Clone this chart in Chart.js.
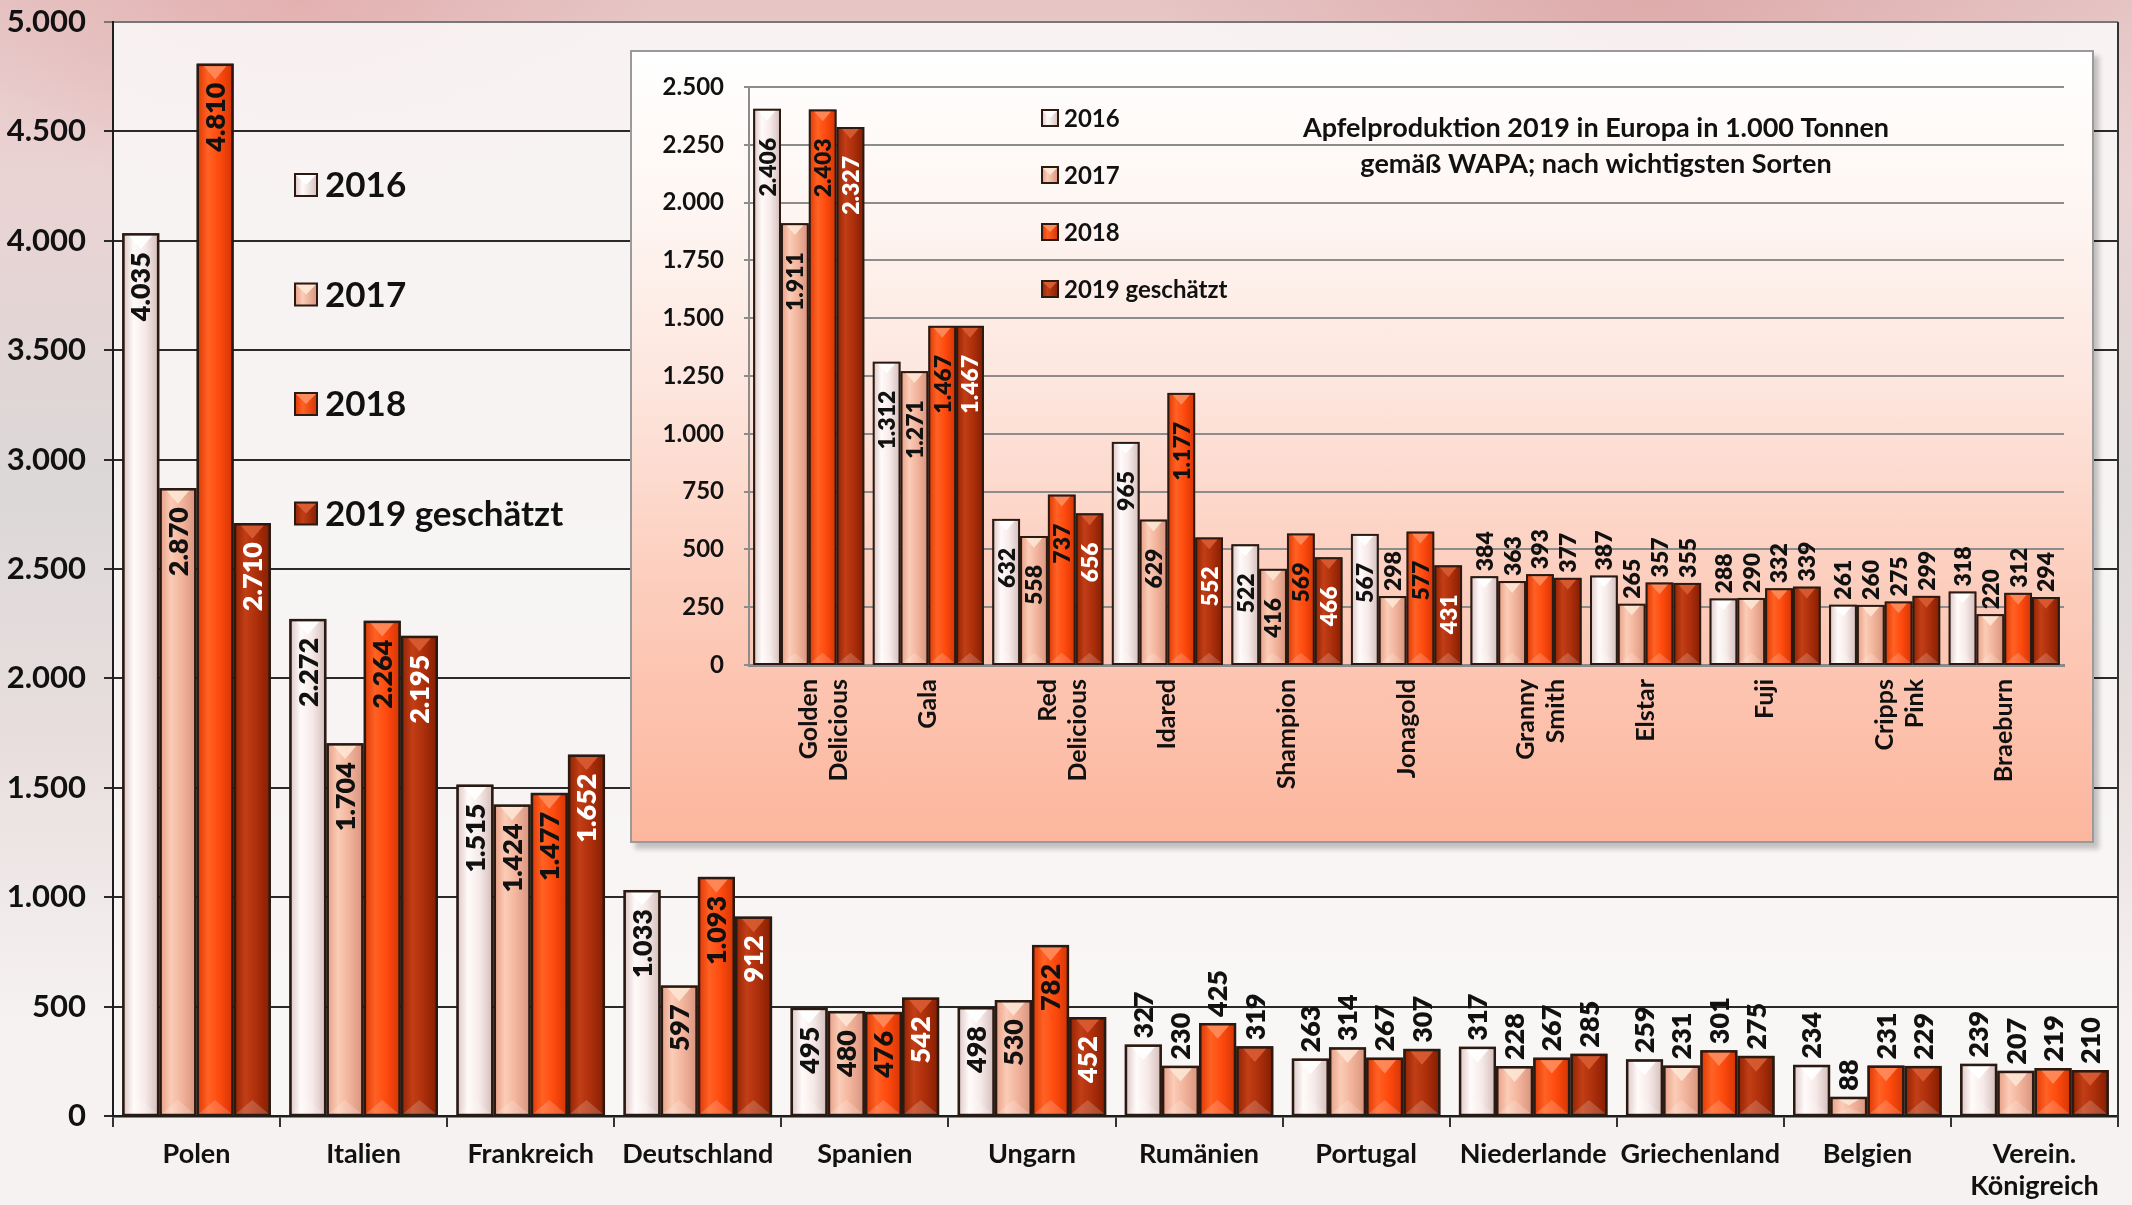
<!DOCTYPE html>
<html>
<head>
<meta charset="utf-8">
<script src="https://cdn.jsdelivr.net/npm/chart.js@4.4.1/dist/chart.umd.min.js"></script>
<style>
  html, body { margin:0; padding:0; width:2132px; height:1205px; overflow:hidden; }
  body {
    background:
      radial-gradient(ellipse 700px 420px at 1650px 0px, rgba(215,150,150,0.55), rgba(215,150,150,0) 70%),
      radial-gradient(ellipse 500px 300px at 300px 0px, rgba(225,160,160,0.55), rgba(225,160,160,0) 70%),
      linear-gradient(to bottom, #e6c4c4 0%, #ebd3d3 14%, #dcd8d8 40%, #e9dede 62%, #f6f2f2 85%, #f6f2f2 100%);
  }
  #main { position:absolute; left:0; top:0; }
  #insetBox {
    position:absolute; left:630px; top:50px; width:1460px; height:789px;
    border:2px solid #9a9a9a;
    background: linear-gradient(to bottom, #ffffff 0%, #fef7f4 18%, #fde6de 42%, #fccdbc 68%, #fdb69e 100%);
    box-shadow: 5px 6px 5px rgba(0,0,0,0.22);
  }
  #inset { position:absolute; left:0; top:0; }
</style>
</head>
<body>
<canvas id="main" width="2132" height="1205"></canvas>
<div id="insetBox"><canvas id="inset" width="1460" height="789"></canvas></div>
<script>
// ---------- DATA ----------
const countries = ['Polen', 'Italien', 'Frankreich', 'Deutschland', 'Spanien', 'Ungarn', 'Rumänien',
  'Portugal', 'Niederlande', 'Griechenland', 'Belgien', ['Verein.', 'Königreich']];
const seriesNames = ['2016', '2017', '2018', '2019 geschätzt'];
const country2016 = [4035, 2272, 1515, 1033, 495, 498, 327, 263, 317, 259, 234, 239];
const country2017 = [2870, 1704, 1424, 597, 480, 530, 230, 314, 228, 231, 88, 207];
const country2018 = [4810, 2264, 1477, 1093, 476, 782, 425, 267, 267, 301, 231, 219];
const country2019 = [2710, 2195, 1652, 912, 542, 452, 319, 307, 285, 275, 229, 210];
const mainTickValues = [0, 500, 1000, 1500, 2000, 2500, 3000, 3500, 4000, 4500, 5000];

const varieties = [['Golden', 'Delicious'], 'Gala', ['Red', 'Delicious'], 'Idared', 'Shampion', 'Jonagold',
  ['Granny', 'Smith'], 'Elstar', 'Fuji', ['Cripps', 'Pink'], 'Braeburn'];
const variety2016 = [2406, 1312, 632, 965, 522, 567, 384, 387, 288, 261, 318];
const variety2017 = [1911, 1271, 558, 629, 416, 298, 363, 265, 290, 260, 220];
const variety2018 = [2403, 1467, 737, 1177, 569, 577, 393, 357, 332, 275, 312];
const variety2019 = [2327, 1467, 656, 552, 466, 431, 377, 355, 339, 299, 294];
const insetTickValues = [0, 250, 500, 750, 1000, 1250, 1500, 1750, 2000, 2250, 2500];
const insetTitle = ['Apfelproduktion 2019 in Europa in 1.000 Tonnen', 'gemäß WAPA; nach wichtigsten Sorten'];

// ---------- STYLE ----------
const FONT = "Lato, 'Open Sans', sans-serif";
const baseColors = ['#f6ebe9', '#f2b29a', '#ff4c10', '#ae2f0a'];
const gradStops = [
  ['#ddc9c7', '#fffbfa', '#f6eae8', '#d6c0be'],
  ['#e8a088', '#fbccb6', '#f2b39b', '#d8957f'],
  ['#e03a06', '#ff6224', '#ff4a0e', '#d43606'],
  ['#942404', '#c23e16', '#ad2f0b', '#861f03']
];
const triColors = ['#ffffff', '#fde6d4', '#ff8c5c', '#d95c32'];
const labelInsideColors = ['#111', '#111', '#111', '#fff'];
const fmt = v => String(v).replace(/\B(?=(\d{3})+(?!\d))/g, '.');

function barDecor(opts) {
  return {
    id: 'barDecor',
    afterDatasetsDraw(chart) {
      const ctx = chart.ctx;
      chart.data.datasets.forEach((ds, di) => {
        const meta = chart.getDatasetMeta(di);
        meta.data.forEach((el, i) => {
          const w = el.width, left = el.x - w / 2, top = el.y, h = el.base - el.y;
          const bw = opts.bw;
          const il = left + bw / 2, ir = left + w - bw / 2, it = top + bw / 2, ib = el.base - 0.5;
          ctx.save();
          const g = ctx.createLinearGradient(il, 0, ir, 0);
          const st = gradStops[di];
          g.addColorStop(0, st[0]); g.addColorStop(0.3, st[1]); g.addColorStop(0.62, st[2]); g.addColorStop(1, st[3]);
          ctx.fillStyle = g;
          ctx.fillRect(il, it, ir - il, ib - it);
          const tw = (ir - il) * 0.72, th = Math.min((ir - il) * 0.42, (ib - it) * 0.45);
          ctx.beginPath();
          ctx.moveTo(el.x - tw / 2, it);
          ctx.lineTo(el.x + tw / 2, it);
          ctx.lineTo(el.x, it + th);
          ctx.closePath();
          ctx.fillStyle = triColors[di];
          ctx.globalAlpha = 0.9;
          ctx.fill();
          ctx.globalAlpha = 0.18;
          ctx.beginPath();
          ctx.moveTo(il, ib);
          ctx.lineTo(ir, ib);
          ctx.lineTo(el.x, ib - Math.min(th, (ib - it) * 0.4));
          ctx.closePath();
          ctx.fillStyle = '#ffffff';
          ctx.fill();
          ctx.globalAlpha = 1;
          ctx.lineWidth = bw;
          ctx.strokeStyle = opts.border;
          ctx.strokeRect(left + bw / 2, top + bw / 2, w - bw, h - bw / 2);
          ctx.restore();

          const v = ds.data[i];
          ctx.save();
          ctx.font = '800 ' + opts.labelSize + 'px ' + FONT;
          ctx.textBaseline = 'middle';
          if (v >= opts.insideMin) {
            ctx.translate(el.x + 1, top + opts.insideOffset);
            ctx.rotate(-Math.PI / 2);
            ctx.textAlign = 'right';
            ctx.fillStyle = labelInsideColors[di];
          } else {
            ctx.translate(el.x + 1, top - opts.outsideOffset);
            ctx.rotate(-Math.PI / 2);
            ctx.textAlign = 'left';
            ctx.fillStyle = '#111';
          }
          ctx.fillText(fmt(v), 0, 0);
          ctx.restore();
        });
      });
    }
  };
}

function legendDecor(opts) {
  return {
    id: 'legendDecor',
    afterDraw(chart) {
      const ctx = chart.ctx;
      ctx.save();
      chart.data.datasets.forEach((ds, di) => {
        const cy = opts.y0 + di * opts.dy, s = opts.box, x = opts.x;
        const g = ctx.createLinearGradient(x, 0, x + s, 0);
        const st = gradStops[di];
        g.addColorStop(0, st[0]); g.addColorStop(0.35, st[1]); g.addColorStop(1, st[3]);
        ctx.fillStyle = g;
        ctx.fillRect(x, cy - s / 2, s, s);
        ctx.beginPath();
        ctx.moveTo(x + 1, cy - s / 2 + 1); ctx.lineTo(x + s - 1, cy - s / 2 + 1); ctx.lineTo(x + s / 2, cy);
        ctx.closePath();
        ctx.fillStyle = triColors[di];
        ctx.fill();
        ctx.lineWidth = 2;
        ctx.strokeStyle = '#2a1a12';
        ctx.strokeRect(x, cy - s / 2, s, s);
        ctx.fillStyle = '#111';
        ctx.font = 'bold ' + opts.size + 'px ' + FONT;
        ctx.textAlign = 'left';
        ctx.textBaseline = 'middle';
        ctx.fillText(ds.label, x + s + opts.gap, cy + 1);
      });
      if (opts.title) {
        ctx.font = 'bold ' + opts.titleSize + 'px ' + FONT;
        ctx.textAlign = 'center';
        ctx.textBaseline = 'middle';
        opts.title.forEach((t, k) => ctx.fillText(t, opts.titleX, opts.titleY + k * opts.titleDy));
      }
      ctx.restore();
    }
  };
}

const plotBg = {
  id: 'plotBg',
  beforeDraw(chart, args, o) {
    if (!o.color) return;
    const a = chart.chartArea, ctx = chart.ctx;
    ctx.save();
    ctx.fillStyle = o.color;
    ctx.fillRect(a.left, a.top, a.right - a.left, a.bottom - a.top);
    ctx.restore();
  },
  afterDatasetsDraw(chart, args, o) {
    if (!o.rightLine) return;
    const a = chart.chartArea, ctx = chart.ctx;
    ctx.save();
    ctx.strokeStyle = o.rightLine; ctx.lineWidth = 2;
    ctx.beginPath(); ctx.moveTo(a.right, a.top); ctx.lineTo(a.right, a.bottom + 10); ctx.stroke();
    ctx.restore();
  }
};

function makeDatasets(arrs, bw, border) {
  return arrs.map((d, i) => ({
    label: seriesNames[i], data: d, backgroundColor: baseColors[i],
    borderColor: border, borderWidth: bw, borderSkipped: false
  }));
}

// ---------- MAIN CHART ----------
new Chart(document.getElementById('main'), {
  type: 'bar',
  data: { labels: countries, datasets: makeDatasets([country2016, country2017, country2018, country2019], 2.5, '#2a1a12') },
  options: {
    responsive: false, animation: false, devicePixelRatio: 1,
    layout: { padding: { top: 22, right: 14, left: 0, bottom: 0 } },
    datasets: { bar: { categoryPercentage: 0.89, barPercentage: 1.0 } },
    plugins: { legend: { display: false }, tooltip: { enabled: false },
      plotBg: { color: 'rgba(249,246,246,0.9)', rightLine: '#333' } },
    scales: {
      x: {
        grid: { offset: true, drawOnChartArea: false, drawTicks: true, tickLength: 11, color: '#333', lineWidth: 2 },
        border: { display: true, color: '#1e1e1e', width: 2.5 },
        ticks: { font: { family: FONT, size: 27, weight: 'bold' }, color: '#111', padding: 11, maxRotation: 0, autoSkip: false },
        afterFit: s => { s.height = 89; }
      },
      y: {
        min: 0, max: 5000,
        afterBuildTicks: s => { s.ticks = mainTickValues.map(v => ({ value: v })); },
        ticks: { callback: v => fmt(v), font: { family: FONT, size: 31, weight: 'bold' }, color: '#111', padding: 18 },
        grid: { color: ctx => ctx.tick && ctx.tick.value === 5000 ? '#777' : '#2a2a2a', lineWidth: 2, tickLength: 9 },
        border: { display: true, color: '#1e1e1e', width: 2 },
        afterFit: s => { s.width = 113; s.paddingTop = 0; s.paddingBottom = 0; }
      }
    }
  },
  plugins: [plotBg,
    barDecor({ bw: 2.5, border: '#2a1a12', labelSize: 27, insideMin: 440, insideOffset: 19, outsideOffset: 6 }),
    legendDecor({ x: 295, y0: 185, dy: 109.5, box: 22, gap: 8, size: 35 })]
});

// ---------- INSET CHART ----------
new Chart(document.getElementById('inset'), {
  type: 'bar',
  data: { labels: varieties, datasets: makeDatasets([variety2016, variety2017, variety2018, variety2019], 2, '#2a1a12') },
  options: {
    responsive: false, animation: false, devicePixelRatio: 1,
    layout: { padding: { top: 35, right: 28, left: 0, bottom: 0 } },
    datasets: { bar: { categoryPercentage: 0.93, barPercentage: 1.0 } },
    plugins: { legend: { display: false }, tooltip: { enabled: false }, plotBg: {} },
    scales: {
      x: {
        grid: { offset: true, drawOnChartArea: false, drawTicks: false, color: '#888', lineWidth: 2 },
        border: { display: true, color: '#8a8a8a', width: 3 },
        ticks: { font: { family: FONT, size: 25, weight: 'bold' }, color: '#111', padding: 14, minRotation: 90, maxRotation: 90, autoSkip: false },
        afterFit: s => { s.height = 176; }
      },
      y: {
        min: 0, max: 2500,
        afterBuildTicks: s => { s.ticks = insetTickValues.map(v => ({ value: v })); },
        ticks: { callback: v => fmt(v), font: { family: FONT, size: 24, weight: 'bold' }, color: '#111', padding: 20 },
        grid: { color: '#8c8c8c', lineWidth: 2, tickLength: 5 },
        border: { display: true, color: '#8c8c8c', width: 2 },
        afterFit: s => { s.width = 117; }
      }
    }
  },
  plugins: [plotBg,
    barDecor({ bw: 2, border: '#2a1a12', labelSize: 23, insideMin: 400, insideOffset: 29, outsideOffset: 5 }),
    legendDecor({ x: 410, y0: 66, dy: 57, box: 16, gap: 6, size: 24,
      title: insetTitle, titleSize: 27, titleX: 964, titleY: 76, titleDy: 36 })]
});
</script>
</body>
</html>
